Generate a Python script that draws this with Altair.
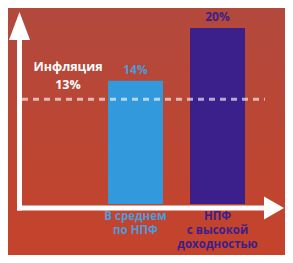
import altair as alt
import pandas as pd

# ---- data ----
categories = ["В среднем\nпо НПФ", "НПФ\nс высокой\nдоходностью"]
values = [14, 20]
value_labels = ["14%", "20%"]
bar_colors = ["#3399dd", "#3b1f8a"]
text_colors = ["#4f9ad8", "#3b1f8a"]
inflation_label = "Инфляция\n13%"
inflation_line_level = 11.9  # where the dashed line sits on the bar scale

W, H = 277, 247

df = pd.DataFrame({
    "cat": categories,
    "value": values,
    "base": [0, 0],
    "label": value_labels,
    "bar_color": bar_colors,
    "text_color": text_colors,
})

x_enc = alt.X("cat:N", sort=None, axis=None,
              scale=alt.Scale(range=[100, 237], paddingInner=0.33, paddingOuter=0))
y_scale = alt.Scale(domain=[-5.8, 22.27], nice=False, zero=False)
y_enc = alt.Y("value:Q", axis=None, scale=y_scale)

one = pd.DataFrame({"a": [0]})

background = alt.Chart(one).mark_rect(
    color=alt.Gradient(
        gradient="linear",
        stops=[alt.GradientStop(color="#b2493d", offset=0),
               alt.GradientStop(color="#c5432b", offset=1)],
        x1=0, x2=0, y1=0, y2=1,
    )
).encode(x=alt.value(0), x2=alt.value(W), y=alt.value(0), y2=alt.value(H))

bars = alt.Chart(df).mark_bar().encode(
    x=x_enc, y=y_enc, y2="base:Q",
    color=alt.Color("bar_color:N", scale=None),
)

val_text = alt.Chart(df).mark_text(
    font="Open Sans", fontWeight="bold", fontSize=12, baseline="bottom", dy=-4
).encode(
    x=x_enc, y=y_enc, text="label:N",
    color=alt.Color("text_color:N", scale=None),
)

cat_text = alt.Chart(df).mark_text(
    font="Open Sans", fontWeight="bold", fontSize=11.5, baseline="top",
    lineBreak="\n", lineHeight=14, dy=7
).encode(
    x=x_enc, y=alt.Y("base:Q", axis=None, scale=y_scale), text="cat:N",
    color=alt.Color("text_color:N", scale=None),
)

infl = pd.DataFrame({"level": [inflation_line_level], "label": [inflation_label]})

dash = alt.Chart(infl).mark_rule(
    color="#ffffff", opacity=0.62, strokeWidth=3, strokeDash=[6, 5]
).encode(
    y=alt.Y("level:Q", axis=None, scale=y_scale),
    x=alt.value(14), x2=alt.value(257),
)

infl_text = alt.Chart(infl).mark_text(
    font="Open Sans", fontWeight="bold", fontSize=12.5, baseline="top",
    lineBreak="\n", lineHeight=17.5, color="white", dy=-38
).encode(
    y=alt.Y("level:Q", axis=None, scale=y_scale),
    x=alt.value(60), text="label:N",
)

v_axis = alt.Chart(one).mark_rule(color="white", strokeWidth=5).encode(
    x=alt.value(11.5), y=alt.value(28), y2=alt.value(202.5)
)
h_axis = alt.Chart(one).mark_rule(color="white", strokeWidth=5).encode(
    y=alt.value(200), x=alt.value(9), x2=alt.value(262)
)
v_head = alt.Chart(one).mark_point(
    shape="M0,-1L0.75,1L-0.75,1Z", filled=True, color="white", opacity=1, size=784
).encode(x=alt.value(11.5), y=alt.value(18))
h_head = alt.Chart(one).mark_point(
    shape="M0.87,0L-0.87,-1L-0.87,1Z", filled=True, color="white", opacity=1, size=529
).encode(x=alt.value(266), y=alt.value(200))

chart = alt.layer(
    background, bars, dash, val_text, cat_text, infl_text,
    v_axis, h_axis, v_head, h_head
).properties(
    width=W, height=H, padding=0,
    autosize=alt.AutoSizeParams(type="none"),
    background="#bb4636",
).configure_view(stroke=None)

chart.save("out.html", embed_options={"renderer": "svg", "actions": False})
